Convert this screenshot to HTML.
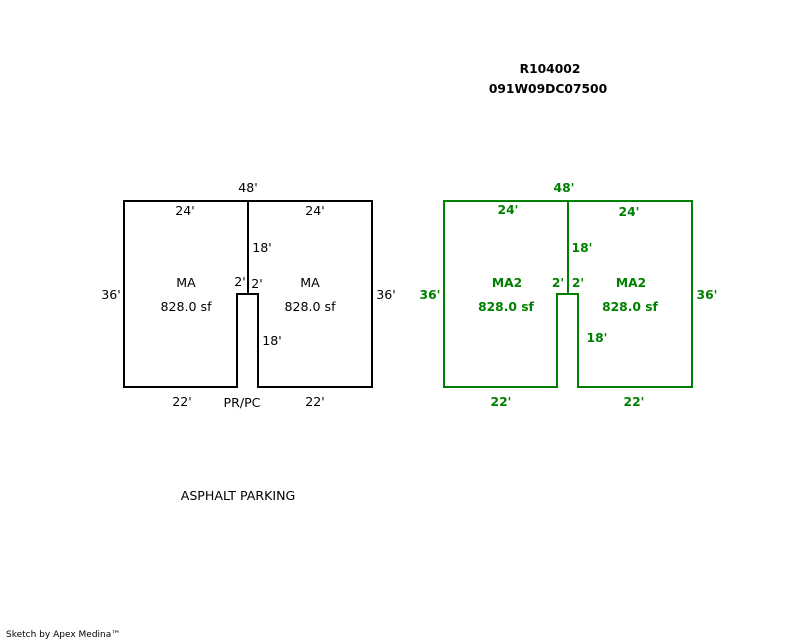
<!DOCTYPE html>
<html><head><style>
html,body{margin:0;padding:0;background:#fff;}
svg{display:block;}
text{font-family:"DejaVu Sans",Verdana,sans-serif;font-size:12.6px;}
.g{fill:#008000;font-weight:bold;font-size:12.3px;}
</style></head><body>
<svg width="800" height="640" viewBox="0 0 800 640" xmlns="http://www.w3.org/2000/svg">
<text x="550" y="73" text-anchor="middle" font-weight="bold" style="font-size:12.3px">R104002</text>
<text x="548" y="93" text-anchor="middle" font-weight="bold" style="font-size:12.3px">091W09DC07500</text>

<g fill="none" stroke="#000" stroke-width="2">
<path d="M124 201 H372 V387 H258 V294 H237 V387 H124 Z"/>
<path d="M248 201 V294"/>
</g>
<g text-anchor="middle">
<text x="248" y="192">48'</text>
<text x="185" y="215">24'</text>
<text x="315" y="215">24'</text>
<text x="262" y="252">18'</text>
<text x="240" y="286">2'</text>
<text x="257" y="288">2'</text>
<text x="186" y="287">MA</text>
<text x="186" y="311">828.0 sf</text>
<text x="310" y="287">MA</text>
<text x="310" y="311">828.0 sf</text>
<text x="111" y="299">36'</text>
<text x="386" y="299">36'</text>
<text x="272" y="345">18'</text>
<text x="182" y="406">22'</text>
<text x="242" y="407">PR/PC</text>
<text x="315" y="406">22'</text>
<text x="238" y="500">ASPHALT PARKING</text>
</g>

<g fill="none" stroke="#008000" stroke-width="2">
<path d="M444 201 H692 V387 H578 V294 H557 V387 H444 Z"/>
<path d="M568 201 V294"/>
</g>
<g text-anchor="middle">
<text class="g" x="564" y="192">48'</text>
<text class="g" x="508" y="214">24'</text>
<text class="g" x="629" y="216">24'</text>
<text class="g" x="582" y="252">18'</text>
<text class="g" x="558" y="287">2'</text>
<text class="g" x="578" y="287">2'</text>
<text class="g" x="507" y="287">MA2</text>
<text class="g" x="506" y="311">828.0 sf</text>
<text class="g" x="631" y="287">MA2</text>
<text class="g" x="630" y="311">828.0 sf</text>
<text class="g" x="430" y="299">36'</text>
<text class="g" x="707" y="299">36'</text>
<text class="g" x="597" y="342">18'</text>
<text class="g" x="501" y="406">22'</text>
<text class="g" x="634" y="406">22'</text>
</g>

<text x="6" y="637" style="font-size:9px">Sketch by Apex Medina™</text>
</svg>
</body></html>
